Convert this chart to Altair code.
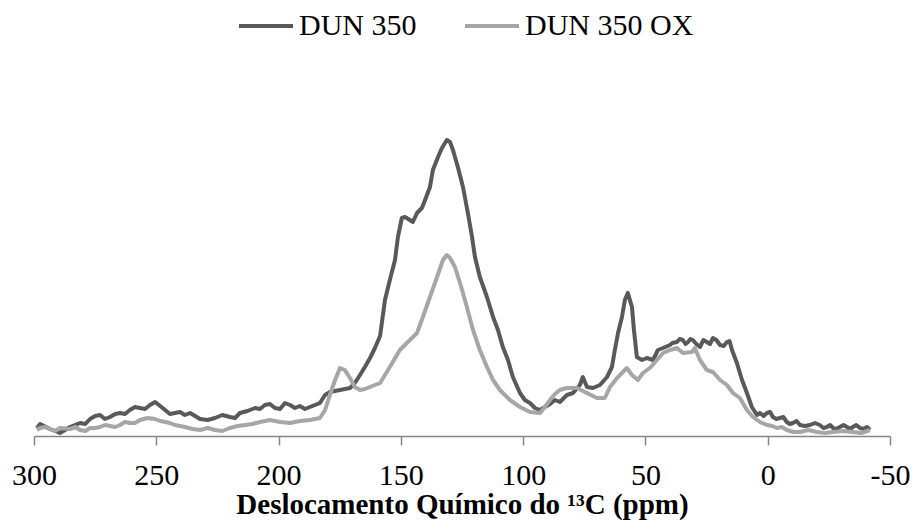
import altair as alt
import pandas as pd

# DUN 350 (dark) — chemical shift (ppm) and intensity (arbitrary units)
dun_ppm = [298.8, 297.5, 293.5, 291.4, 289.4, 287.3, 285.3, 281.2, 277.1, 273.0, 268.9, 264.8,
           260.8, 256.7, 252.6, 250.5, 246.4, 242.4, 238.3, 236.2, 232.1, 226.0, 219.9, 215.8,
           209.6, 205.6, 201.5, 197.4, 193.3, 191.3, 187.2, 183.1, 181.0, 179.0, 174.9, 170.8,
           168.8, 166.7, 164.7, 162.6, 160.6, 158.5, 156.5, 154.5, 152.4, 151.2, 149.6, 148.3,
           146.3, 145.1, 143.4, 141.4, 140.1, 138.1, 136.9, 134.8, 133.2, 131.2, 129.9, 128.7,
           126.7, 124.6, 122.6, 120.9, 119.7, 117.7, 114.8, 112.3, 110.3, 108.3, 106.2, 104.2,
           101.3, 99.3, 97.2, 95.2, 93.1, 91.1, 89.0, 87.0, 85.0, 82.1, 79.6, 76.8, 75.6, 73.9,
           71.5, 68.6, 65.7, 63.7, 62.5, 61.2, 59.6, 58.4, 57.2, 55.5, 54.7, 53.5, 51.4, 49.4,
           46.9, 44.9, 42.8, 40.0, 37.1, 34.7, 32.6, 30.6, 27.7, 24.9, 22.4, 19.5, 16.7, 14.6,
           12.6, 10.5, 8.5, 6.5, 4.4, 3.2, 0.3, -2.1, -5.0, -7.8, -10.3, -13.2, -17.3, -21.3,
           -24.2, -26.7, -29.5, -32.4, -34.8, -37.7, -40.6, -41.8,
           279.0, 275.0, 271.0, 266.8, 262.8, 258.7, 254.6, 248.4, 244.4, 240.3, 234.1, 229.0,
           223.0, 217.8, 212.7, 207.6, 203.5, 199.4, 195.3, 189.2, 185.1,
           39.0, 36.0, 33.6, 31.6, 29.2, 26.3, 23.6, 21.0, 18.0, 15.6,
           1.7, -1.0, -3.5, -6.4, -9.0, -11.8, -15.2, -19.3, -22.8, -25.5, -28.0, -31.0,
           -33.6, -36.2, -39.2]
dun_int = [8, 12, 7, 5, 3, 6, 9, 13, 17, 21, 19, 23,
           26, 28, 31, 34, 26, 23, 21, 23, 17, 18, 19, 23,
           28, 31, 28, 33, 28, 30, 29, 33, 41, 44, 46, 48,
           53, 61, 69, 78, 88, 100, 136, 156, 176, 199, 218, 219,
           216, 214, 223, 228, 236, 249, 266, 279, 288, 296, 294, 286,
           269, 249, 223, 199, 179, 159, 139, 119, 106, 89, 76, 59,
           43, 36, 33, 28, 26, 29, 32, 36, 34, 41, 43, 51, 59, 49,
           48, 51, 59, 69, 86, 103, 119, 136, 143, 129, 106, 79, 76, 78,
           76, 86, 88, 91, 94, 96, 94, 96, 89, 94, 98, 91, 94, 86,
           73, 56, 43, 29, 21, 23, 23, 19, 18, 14, 13, 11, 11, 11,
           9, 8, 9, 9, 9, 8, 9, 6,
           12, 20, 17, 22, 22, 29, 27, 30, 22, 24, 20, 16,
           21, 18, 25, 27, 32, 27, 31, 27, 31,
           93, 97, 92, 97, 92, 96, 92, 96, 90, 95,
           20, 24, 17, 19, 12, 15, 10, 13, 8, 11, 7, 11,
           7, 11, 7]

# DUN 350 OX (light)
ox_ppm = [298.8, 297.5, 293.5, 289.4, 285.3, 281.2, 277.1, 273.0, 268.9, 264.8, 260.8, 256.7,
          250.5, 246.4, 242.4, 238.3, 232.1, 226.0, 219.9, 213.7, 207.6, 199.4, 191.3, 187.2,
          183.1, 181.0, 179.0, 176.9, 174.9, 172.9, 170.8, 168.8, 166.7, 164.7, 162.6, 160.6,
          158.5, 154.5, 150.4, 146.3, 143.4, 141.0, 138.1, 135.2, 132.8, 131.2, 129.9, 127.9,
          125.8, 123.0, 120.5, 117.7, 114.8, 112.3, 109.5, 105.4, 101.3, 97.2, 93.1, 91.1,
          89.0, 87.0, 85.0, 82.1, 78.0, 73.9, 69.8, 66.6, 64.5, 61.6, 57.6, 55.5, 53.1, 51.0,
          48.2, 45.3, 42.8, 40.0, 37.1, 34.7, 31.0, 29.8, 27.7, 24.9, 22.4, 19.5, 16.7, 14.2,
          11.4, 8.5, 6.0, 3.2, 0.3, -3.8, -7.8, -13.2, -20.1, -26.7, -34.8, -41.8,
          295.5, 291.4, 283.0, 279.0, 275.0, 270.9, 266.8, 262.8, 258.7, 253.6, 248.4, 244.4,
          240.3, 235.2, 229.0, 223.0, 216.8, 210.7, 203.5, 195.3,
          -1.8, -5.8, -10.5, -16.6, -23.4, -30.7, -38.3]
ox_int = [6, 8, 7, 8, 7, 6, 8, 9, 10, 11, 13, 16,
          17, 14, 11, 9, 6, 6, 8, 11, 14, 14, 15, 16,
          18, 26, 41, 56, 68, 66, 58, 49, 46, 47, 49, 51,
          53, 69, 86, 96, 103, 119, 139, 159, 176, 181, 178, 169,
          153, 129, 106, 86, 69, 56, 46, 36, 29, 24, 23, 29,
          36, 42, 46, 48, 48, 43, 38, 38, 49, 58, 68, 61, 56, 63,
          68, 76, 83, 86, 88, 83, 84, 88, 76, 66, 64, 56, 51, 43,
          38, 26, 19, 14, 11, 8, 6, 4, 4, 4, 4, 6,
          9, 5, 9, 5, 8, 11, 9, 14, 13, 18, 15, 13,
          10, 7, 8, 5, 10, 12, 16, 13,
          10, 9, 4, 6, 3, 5, 3]

series_names = ["DUN 350", "DUN 350 OX"]
series_colors = ["#595959", "#A6A6A6"]
tick_values = [300, 250, 200, 150, 100, 50, 0, -50]

df = pd.concat([
    pd.DataFrame({"ppm": dun_ppm, "intensity": dun_int, "serie": series_names[0]}),
    pd.DataFrame({"ppm": ox_ppm, "intensity": ox_int, "serie": series_names[1]}),
])

FONT = "Liberation Serif, Times New Roman, serif"

chart = alt.Chart(df).mark_line(strokeWidth=4, strokeJoin="round").encode(
    x=alt.X("ppm:Q",
            scale=alt.Scale(domain=[-50, 300], reverse=True, nice=False, zero=False),
            axis=alt.Axis(values=tick_values, title="Deslocamento Químico do ¹³C (ppm)",
                          labelExpr="replace(datum.label, '−', '-')",
                          grid=False, domainColor="#868686", tickColor="#868686",
                          domainWidth=1.5, tickWidth=1.5, tickSize=9,
                          labelFont=FONT, labelFontSize=30, labelColor="black",
                          labelPadding=15, labelFlush=False, labelOverlap=False,
                          titleFont=FONT, titleFontSize=29, titleFontWeight="bold",
                          titleColor="black", titlePadding=0)),
    y=alt.Y("intensity:Q", scale=alt.Scale(domain=[0, 360], nice=False), axis=None),
    color=alt.Color("serie:N",
                    scale=alt.Scale(domain=series_names, range=series_colors),
                    legend=alt.Legend(title=None, orient="none", direction="horizontal",
                                      legendX=203, legendY=-79,
                                      symbolType="stroke", symbolSize=2916,
                                      symbolStrokeWidth=4, labelOffset=4,
                                      columnPadding=40, padding=0, labelLimit=400,
                                      labelFont=FONT, labelFontSize=30,
                                      labelColor="black")),
    order=alt.Order("ppm:Q"),
).properties(
    width=856, height=360,
    autosize=alt.AutoSizeParams(type="none"),
    padding={"left": 34, "top": 76, "right": 25, "bottom": 94},
).configure(background="white", font=FONT).configure_view(strokeWidth=0, stroke="transparent")

chart.save("out.html", embed_options={"renderer": "svg", "actions": False})
